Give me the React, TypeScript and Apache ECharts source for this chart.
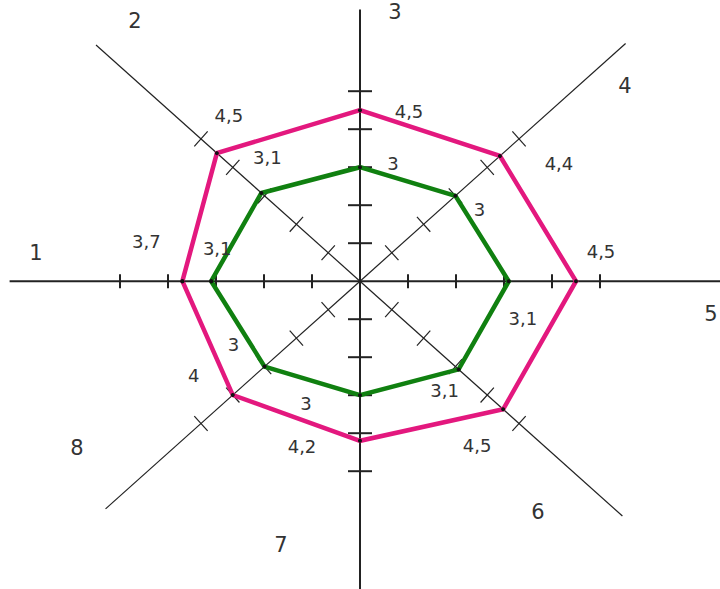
import React, { useEffect, useRef } from "react";
import * as echarts from "echarts";

// ---- data ----
const AXIS_NAMES = ["1", "2", "3", "4", "5", "6", "7", "8"];
const SERIES_PINK = [3.7, 4.5, 4.5, 4.4, 4.5, 4.5, 4.2, 4];
const SERIES_GREEN = [3.1, 3.1, 3, 3, 3.1, 3.1, 3, 3];
const TICK_VALUES = [1, 2, 3, 4, 5];

// ---- layout ----
const ANGLES = [180, 131.5, 90, 48.5, 0, -48.5, -90, -131.5];
const SPOKE_LEN = [7.3, 8.3, 7.15, 8.35, 7.6, 8.25, 8.2, 8.0];
const TICK_HALF = [7, 10, 12, 10, 7, 10, 12, 10];
const SPOKE_WIDTH = [2, 1.2, 2, 1.2, 2, 1.2, 2, 1.2];
const NAME_POS = [
  [36, 253], [135, 21], [395, 12], [625, 86],
  [711, 314], [538, 512], [281, 545], [77, 448],
];
const PINK_OFF = [
  [-36, -40], [12, -38], [49, 1], [59, 8],
  [25, -30], [-26, 36], [-58, 6], [-39, -20],
];
const GREEN_OFF = [
  [6, -33], [6, -35], [33, -4], [24, 14],
  [14, 37], [-14, 21], [-54, 8], [-31, -22],
];
const PINK = "#E3187E";
const GREEN = "#108010";
const INK = "#222";
const FONT = "DejaVu Sans";

const rad = (d: number) => (d * Math.PI) / 180;
const toXY = (v: number, i: number) => [
  v * Math.cos(rad(ANGLES[i])),
  v * Math.sin(rad(ANGLES[i])),
];
const fmt = (v: number) => String(v).replace(".", ",");

function polygonSeries(values: number[], color: string, offs: number[][]) {
  const pts: any[] = values.map((v, i) => ({
    value: toXY(v, i),
    label: {
      show: true,
      position: "inside",
      offset: offs[i],
      formatter: fmt(v),
      fontSize: 18,
      fontFamily: FONT,
      color: "#333",
    },
  }));
  pts.push({ value: toXY(values[0], 0), label: { show: false } });
  return {
    type: "line",
    data: pts,
    symbol: "circle",
    symbolSize: 4,
    showSymbol: true,
    showAllSymbol: true,
    itemStyle: { color: "#111" },
    lineStyle: { color, width: 4.5, join: "miter" },
    z: 5,
    silent: true,
    clip: false,
  };
}

export default function App() {
  const ref = useRef<HTMLDivElement>(null);
  useEffect(() => {
    if (!ref.current) return;
    const chart = echarts.init(ref.current, undefined, { renderer: "svg" });

    const spokeData = AXIS_NAMES.map((_, i) => [i, SPOKE_LEN[i]]);
    const tickData: number[][] = [];
    AXIS_NAMES.forEach((_, i) => TICK_VALUES.forEach((t) => tickData.push([i, t])));

    chart.setOption({
      animation: false,
      backgroundColor: "#fff",
      grid: { left: 0, right: 0, top: 0, bottom: 0 },
      xAxis: { type: "value", min: -7.5, max: 7.5, show: false },
      yAxis: { type: "value", min: -8.1, max: 7.4, show: false },
      series: [
        {
          type: "custom",
          silent: true,
          clip: false,
          z: 2,
          data: spokeData,
          renderItem: (params: any, api: any) => {
            const i = api.value(0);
            const L = api.value(1);
            const p0 = api.coord([0, 0]);
            const p1 = api.coord(toXY(L, i));
            return {
              type: "line",
              shape: { x1: p0[0], y1: p0[1], x2: p1[0], y2: p1[1] },
              style: { stroke: INK, lineWidth: SPOKE_WIDTH[i] },
            };
          },
        },
        {
          type: "custom",
          silent: true,
          clip: false,
          z: 3,
          data: tickData,
          renderItem: (params: any, api: any) => {
            const i = api.value(0);
            const t = api.value(1);
            const p0 = api.coord([0, 0]);
            const p1 = api.coord(toXY(1, i));
            let dx = p1[0] - p0[0];
            let dy = p1[1] - p0[1];
            const n = Math.hypot(dx, dy);
            dx /= n;
            dy /= n;
            const p = api.coord(toXY(t, i));
            const h = TICK_HALF[i];
            return {
              type: "line",
              shape: {
                x1: p[0] - dy * h,
                y1: p[1] + dx * h,
                x2: p[0] + dy * h,
                y2: p[1] - dx * h,
              },
              style: { stroke: INK, lineWidth: SPOKE_WIDTH[i] },
            };
          },
        },
        polygonSeries(SERIES_PINK, PINK, PINK_OFF),
        polygonSeries(SERIES_GREEN, GREEN, GREEN_OFF),
      ],
      graphic: AXIS_NAMES.map((name, i) => ({
        type: "text",
        x: NAME_POS[i][0],
        y: NAME_POS[i][1],
        silent: true,
        style: {
          text: name,
          fontSize: 21,
          fontFamily: FONT,
          fill: "#333",
          align: "center",
          verticalAlign: "middle",
        },
      })),
    });
    return () => chart.dispose();
  }, []);

  return (
    <div
      ref={ref}
      style={{ position: "absolute", left: 0, top: 0, width: 720, height: 589, background: "#fff" }}
    />
  );
}
